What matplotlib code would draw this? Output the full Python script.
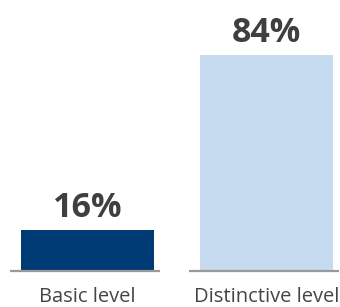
import matplotlib
matplotlib.use("Agg")
import matplotlib.pyplot as plt

categories = ["Basic level", "Distinctive level"]
values = [16, 84]
value_labels = ["16%", "84%"]
colors = ["#013b75", "#c6daf0"]

W, H, DPI = 340, 307, 100
fig = plt.figure(figsize=(W / DPI, H / DPI), dpi=DPI)
base_px = 36
ax = fig.add_axes([0, base_px / H, 1, (H - base_px) / H])
ax.set_xlim(-0.489, 1.411)
ax.set_ylim(0, 271 / 2.571)
ax.axis("off")

x = list(range(len(categories)))
ax.bar(x, values, width=0.743, color=colors, zorder=2)
for xi in x:
    ax.hlines(0, xi - 0.433, xi + 0.405, color="#9a9a9a", lw=1.6, zorder=3, clip_on=False)

for xi, v, lab in zip(x, values, value_labels):
    ax.annotate(lab, (xi, v), xytext=(0, 9.4), textcoords="offset points",
                ha="center", va="baseline", fontsize=24.5, fontweight="bold",
                color="#3f3f3f", family="Open Sans")

for xi, c in zip(x, categories):
    ax.annotate(c, (xi, 0), xytext=(0, -(302 - 271) * 72 / DPI), textcoords="offset points",
                ha="center", va="baseline", fontsize=14.5, color="#444444",
                family="Open Sans", annotation_clip=False)

fig.savefig("out.png", dpi=DPI)
